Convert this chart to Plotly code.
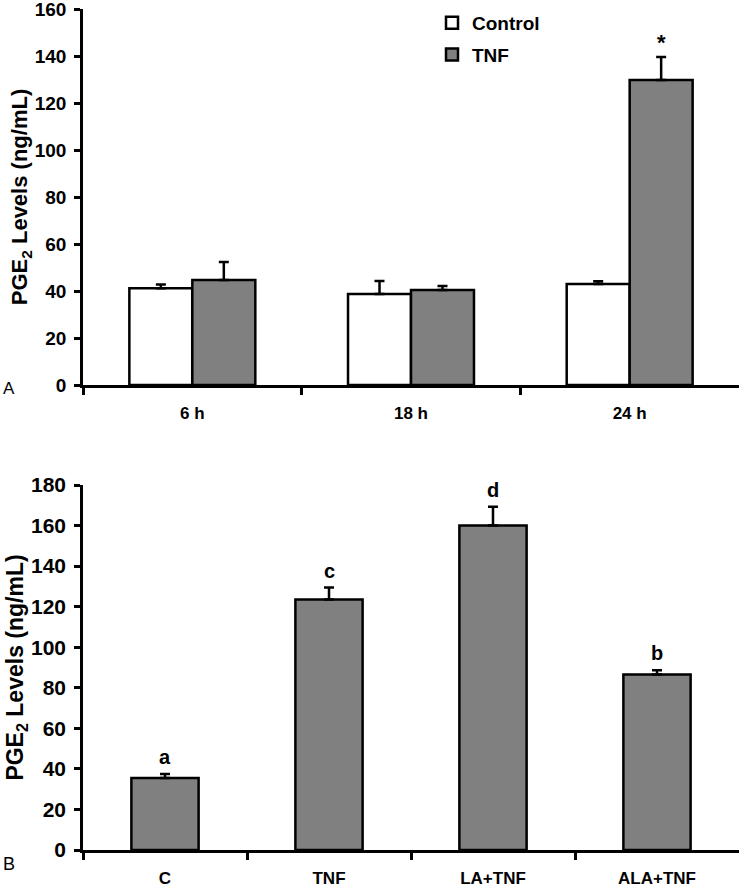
import plotly.graph_objects as go

# ---- Panel A data ----
time_points = ["6 h", "18 h", "24 h"]
control_vals = [41.2, 38.7, 43.0]
control_err = [1.6, 5.6, 1.2]
tnf_vals = [44.7, 40.4, 129.8]
tnf_err = [7.6, 1.7, 9.8]
star_labels = ["", "", "*"]

# ---- Panel B data ----
treatments = ["C", "TNF", "LA+TNF", "ALA+TNF"]
treat_vals = [35.5, 123.5, 160.0, 86.6]
treat_err = [2.0, 5.9, 9.3, 2.0]
treat_letters = ["a", "c", "d", "b"]

FONT = "Liberation Sans, Arial, sans-serif"
GRAY = "#808080"
W, H = 741, 890

fig = go.Figure()

fig.add_trace(go.Bar(
    x=time_points, y=control_vals, name="Control",
    marker=dict(color="white", line=dict(color="black", width=2.5)),
    error_y=dict(type="data", array=control_err, arrayminus=[0] * len(control_err),
                 symmetric=False, color="black", thickness=2.5, width=5),
    xaxis="x", yaxis="y", legendgroup="c",
))
fig.add_trace(go.Bar(
    x=time_points, y=tnf_vals, name="TNF",
    marker=dict(color=GRAY, line=dict(color="black", width=2.5)),
    error_y=dict(type="data", array=tnf_err, arrayminus=[0] * len(tnf_err),
                 symmetric=False, color="black", thickness=2.5, width=5),
    xaxis="x", yaxis="y", legendgroup="t",
))
fig.add_trace(go.Bar(
    x=treatments, y=treat_vals, name="Treatments", showlegend=False,
    width=0.41,
    marker=dict(color=GRAY, line=dict(color="black", width=2.5)),
    error_y=dict(type="data", array=treat_err, arrayminus=[0] * len(treat_err),
                 symmetric=False, color="black", thickness=2.5, width=5),
    xaxis="x2", yaxis="y2",
))

xdom = [83 / W, 739 / W]
ydomA = [1 - 385 / H, 1 - 9 / H]
ydomB = [1 - 850 / H, 1 - 485 / H]

def yax(rng, dom, anchor, tsize, title_size):
    return dict(
        range=rng, domain=dom, anchor=anchor, dtick=20, automargin=False,
        showline=True, linecolor="black", linewidth=2.5,
        ticks="outside", ticklen=6, tickwidth=2.5, tickcolor="black",
        showgrid=False, zeroline=False, ticklabelstandoff=4,
        ticklabeloverflow="allow",
        tickfont=dict(family=FONT, size=tsize, color="black", weight="bold"),
        title=dict(text="PGE<sub>2</sub> Levels (ng/mL)",
                   font=dict(family=FONT, size=title_size, color="black", weight="bold"),
                   standoff=1),
    )

def xax(dom, anchor, tsize, standoff):
    return dict(
        domain=dom, anchor=anchor, type="category", automargin=False,
        showline=True, linecolor="black", linewidth=2.5,
        ticks="outside", ticklen=7, tickwidth=2.5, tickcolor="black",
        tickson="boundaries", showgrid=False, zeroline=False,
        ticklabelstandoff=standoff, ticklabeloverflow="allow",
        tickfont=dict(family=FONT, size=tsize, color="black", weight="bold"),
    )

annotations = []
for cat, v, e, s in zip(time_points, tnf_vals, tnf_err, star_labels):
    if s:
        annotations.append(dict(
            x=cat, y=v + e, xref="x", yref="y", text=s, showarrow=False,
            xshift=31.5, yanchor="bottom", yshift=0,
            font=dict(family=FONT, size=22, color="black", weight="bold"),
        ))
for cat, v, e, s in zip(treatments, treat_vals, treat_err, treat_letters):
    annotations.append(dict(
        x=cat, y=v + e, xref="x2", yref="y2", text=s, showarrow=False,
        yanchor="bottom", yshift=4,
        font=dict(family=FONT, size=20, color="black", weight="bold"),
    ))
annotations.append(dict(x=9 / W, y=1 - 388 / H, xref="paper", yref="paper", text="A",
                        xanchor="center", yanchor="middle",
                        showarrow=False, font=dict(family=FONT, size=17, color="black")))
annotations.append(dict(x=9 / W, y=1 - 864 / H, xref="paper", yref="paper", text="B",
                        xanchor="center", yanchor="middle",
                        showarrow=False, font=dict(family=FONT, size=18, color="black")))

fig.update_layout(
    width=W, height=H,
    margin=dict(l=0, r=0, t=0, b=0, autoexpand=False),
    paper_bgcolor="white", plot_bgcolor="white",
    barmode="group", bargap=0.424, bargroupgap=0,
    xaxis=xax(xdom, "y", 17, 11),
    yaxis=yax([0, 160], ydomA, "x", 19, 22),
    xaxis2=xax(xdom, "y2", 17, 11),
    yaxis2=yax([0, 180], ydomB, "x2", 21, 23),
    legend=dict(x=432 / W, y=1 - 4 / H, xanchor="left", yanchor="top",
                bgcolor="rgba(0,0,0,0)", tracegroupgap=4,
                font=dict(family=FONT, size=19, color="black", weight="bold")),
    annotations=annotations,
    showlegend=True,
)

fig.write_html("out.html", config={"displayModeBar": False},
               post_script="document.body.style.margin='0';document.body.style.overflow='hidden';")
